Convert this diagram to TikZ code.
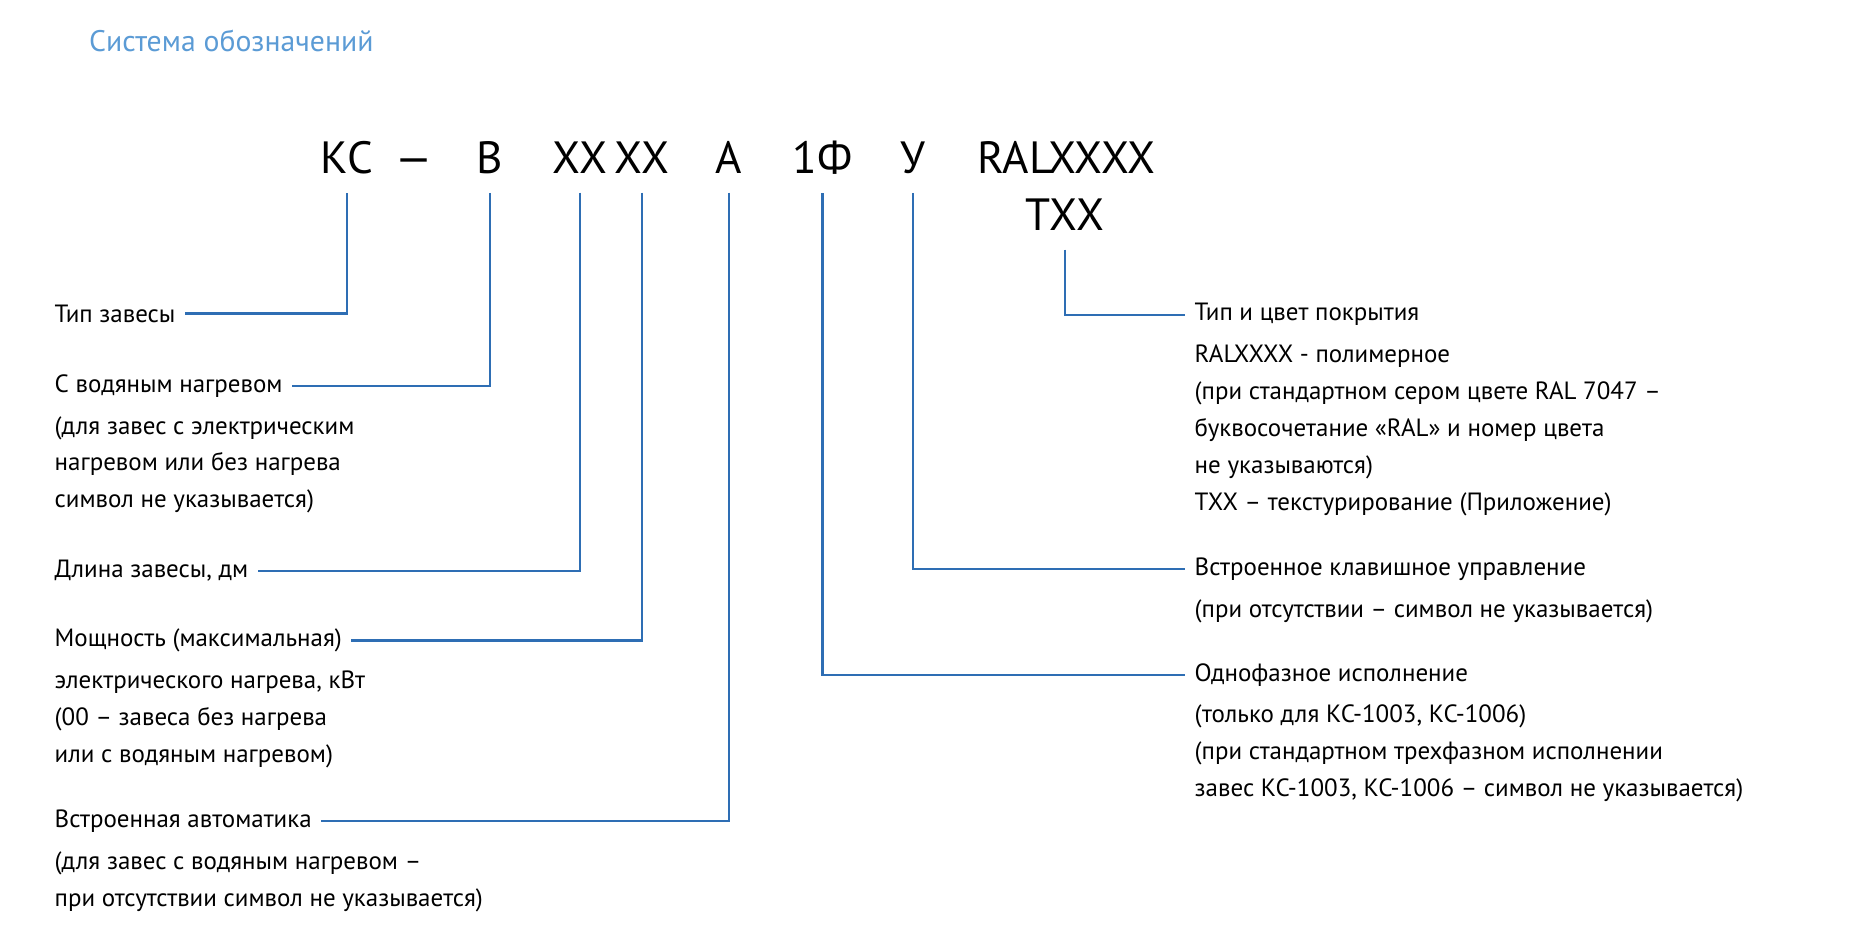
\documentclass[tikz,border=0pt]{standalone}
\usepackage{fontspec}
\setmainfont{PT Sans}
\usetikzlibrary{positioning}
\definecolor{leadblue}{RGB}{46,110,180}
\definecolor{titleblue}{RGB}{91,155,213}
\tikzset{
        code/.style={font=\fontsize{19}{22}\selectfont, inner sep=0pt, outer sep=8pt},
        desc/.style={font=\fontsize{10.5}{15.5}\selectfont, inner sep=0pt, outer sep=4pt, align=left},
        more/.style={desc, anchor=north west},
        lead/.style={draw=leadblue, line width=1pt},
}
\begin{document}
\begin{tikzpicture}[x=0.5pt, y=-0.5pt]
    \useasboundingbox (0,0) rectangle (1568,784);
    \node[anchor=base west, font=\fontsize{12.5}{15}\selectfont, text=titleblue] (title) at (68,43) {Система обозначений};

    % code letters
    \node[code, anchor=base] (kc) at (292,146) {КС};
    \node[code, anchor=base] (dash) at (348,146) {---};
    \node[code, anchor=base] (b) at (412,146) {В};
    \node[code, anchor=base] (len) at (488,146) {ХХ};
    \node[code, anchor=base] (pow) at (540,146) {ХХ};
    \node[code, anchor=base] (a) at (613,146) {А};
    \node[code, anchor=base] (ph) at (692,146) {1Ф};
    \node[code, anchor=base] (u) at (768,146) {У};
    \node[code, anchor=base] (ral) at (897,146) {RALXXXX};
    \node[code, anchor=base] (txx) at (896,194) {ТХХ};

    % left descriptions
    \node[desc, anchor=base west] (tip) at (38,271) {Тип завесы};
    \node[desc, anchor=base west] (water) at (38,330) {С водяным нагревом};
    \node[more] (waterx) at (water.south west) {(для завес с электрическим\\нагревом или без нагрева\\символ не указывается)};
    \node[desc, anchor=base west] (dlina) at (38,486) {Длина завесы, дм};
    \node[desc, anchor=base west] (power) at (38,544) {Мощность (максимальная)};
    \node[more] (powerx) at (power.south west) {электрического нагрева, кВт\\(00 -- завеса без нагрева\\или с водяным нагревом)};
    \node[desc, anchor=base west] (auto) at (38,696) {Встроенная автоматика};
    \node[more] (autox) at (auto.south west) {(для завес с водяным нагревом --\\при отсутствии символ не указывается)};

    % right descriptions
    \node[desc, anchor=base west] (cover) at (997,270) {Тип и цвет покрытия};
    \node[more] (coverx) at (cover.south west) {RALXXXX - полимерное\\(при стандартном сером цвете RAL 7047 --\\буквосочетание «RAL» и номер цвета\\не указываются)\\ТХХ -- текстурирование (Приложение)};
    \node[desc, anchor=base west] (keys) at (997,484) {Встроенное клавишное управление};
    \node[more] (keysx) at (keys.south west) {(при отсутствии -- символ не указывается)};
    \node[desc, anchor=base west] (one) at (997,573) {Однофазное исполнение};
    \node[more] (onex) at (one.south west) {(только для КС-1003, КС-1006)\\(при стандартном трехфазном исполнении\\завес КС-1003, КС-1006 -- символ не указывается)};

    \draw[lead] (kc) |- (tip);
    \draw[lead] (b) |- (water);
    \draw[lead] (len) |- (dlina);
    \draw[lead] (pow) |- (power);
    \draw[lead] (a) |- (auto);
    \draw[lead] (txx) |- (cover);
    \draw[lead] (u) |- (keys);
    \draw[lead] (ph) |- (one);
\end{tikzpicture}
\end{document}
